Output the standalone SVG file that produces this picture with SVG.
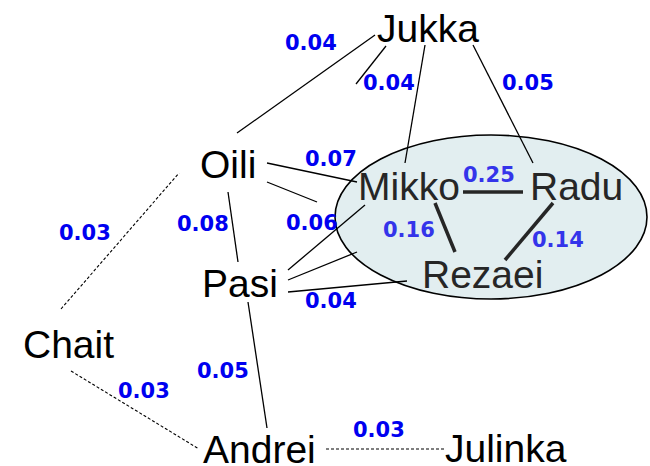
<svg xmlns="http://www.w3.org/2000/svg" width="650" height="466" viewBox="0 0 650 466">
<style>
.n{font-family:"Liberation Sans",Arial,sans-serif;font-size:39px;fill:#000}
.ni{fill:#262626}
.w{font-family:"DejaVu Sans",Verdana,sans-serif;font-weight:bold;font-size:21px;fill:#0000f0}
.wi{fill:#3434ea}
.e{stroke:#000;stroke-width:1.3;fill:none}
.d{stroke:#000;stroke-width:1.1;stroke-dasharray:3,2;fill:none}
.t{stroke:#262626;stroke-width:3.5;fill:none}
</style>
<rect width="650" height="466" fill="#fff"/>
<g id="group">
<ellipse cx="491" cy="217" rx="156" ry="82" fill="#e2eef0" stroke="#000" stroke-width="1.6"/>
</g>
<g id="connectors">
<line class="e" x1="375" y1="35" x2="237" y2="133"/>
<line class="e" x1="386" y1="46" x2="356" y2="84"/>
<line class="e" x1="425" y1="45" x2="405" y2="163"/>
<line class="e" x1="473" y1="45" x2="533" y2="163"/>
<line class="e" x1="267" y1="163" x2="357" y2="182"/>
<line class="e" x1="267" y1="182" x2="317" y2="202"/>
<line class="e" x1="228" y1="192" x2="238" y2="262"/>
<line class="e" x1="288" y1="270" x2="365" y2="205"/>
<line class="e" x1="288" y1="280" x2="357" y2="252"/>
<line class="e" x1="288" y1="292" x2="407" y2="281"/>
<line class="e" x1="248" y1="302" x2="267" y2="428"/>
<line class="d" x1="61" y1="309" x2="179" y2="173"/>
<line class="d" x1="71" y1="371" x2="199" y2="449"/>
<line class="d" x1="326" y1="449" x2="445" y2="449"/>
<line class="t" x1="463" y1="192" x2="523" y2="192"/>
<line class="t" x1="435" y1="203" x2="455" y2="252"/>
<line class="t" x1="553" y1="203" x2="505" y2="260"/>
</g>
<g id="labels">
<text class="w" x="285" y="50">0.04</text>
<text class="w" x="363" y="90">0.04</text>
<text class="w" x="502" y="90">0.05</text>
<text class="w" x="305" y="166">0.07</text>
<text class="w wi" x="463" y="182">0.25</text>
<text class="w" x="177" y="231">0.08</text>
<text class="w" x="286" y="230">0.06</text>
<text class="w wi" x="383" y="237">0.16</text>
<text class="w wi" x="532" y="247">0.14</text>
<text class="w" x="305" y="308">0.04</text>
<text class="w" x="59" y="240">0.03</text>
<text class="w" x="197" y="378">0.05</text>
<text class="w" x="118" y="398">0.03</text>
<text class="w" x="353" y="437">0.03</text>
</g>
<g id="Jukka"><text class="n" x="377" y="42">Jukka</text></g>
<g id="Oili"><text class="n" x="200" y="178" font-size="38">Oili</text></g>
<g id="Mikko"><text class="n ni" x="358" y="200" font-size="39.5">Mikko</text></g>
<g id="Radu"><text class="n ni" x="530" y="200" font-size="37">Radu</text></g>
<g id="Rezaei"><text class="n ni" x="422" y="288" font-size="37">Rezaei</text></g>
<g id="Pasi"><text class="n" x="202" y="297" font-size="37">Pasi</text></g>
<g id="Chait"><text class="n" x="23" y="358">Chait</text></g>
<g id="Andrei"><text class="n" x="203" y="463">Andrei</text></g>
<g id="Julinka"><text class="n" x="445" y="462">Julinka</text></g>
</svg>
